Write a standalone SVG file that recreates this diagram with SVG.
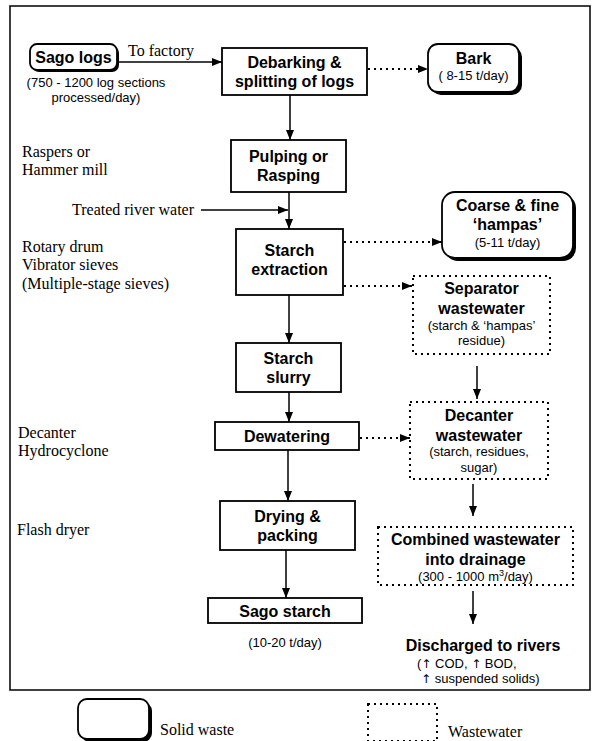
<svg xmlns="http://www.w3.org/2000/svg" width="595" height="741" viewBox="0 0 595 741">
<style>
.b{font-family:"Liberation Sans",Arial,sans-serif;font-weight:bold;font-size:16px;fill:#000;text-anchor:middle}
.s{font-family:"Liberation Sans",Arial,sans-serif;font-size:13px;fill:#000;text-anchor:middle}
.sl{font-family:"Liberation Sans",Arial,sans-serif;font-size:13px;fill:#000}
.ar{font-family:"DejaVu Sans",sans-serif;font-size:12px;fill:#000}
.t{font-family:"Liberation Serif","Times New Roman",serif;font-size:16px;fill:#000}
.box{fill:#fff;stroke:#000;stroke-width:1.8}
.dbox{fill:#fff;stroke:#000;stroke-width:2;stroke-dasharray:2 4}
.sh{fill:#000}
.ln{fill:none;stroke:#000;stroke-width:1.5}
.dl{fill:none;stroke:#000;stroke-width:2;stroke-dasharray:2 4}
</style>
<defs>
<marker id="ah" viewBox="0 0 10 8" refX="10" refY="4" markerWidth="10" markerHeight="8" markerUnits="userSpaceOnUse" orient="auto">
<path d="M0,0 L10,4 L0,8 Z" fill="#000"/>
</marker>
</defs>
<rect width="595" height="741" fill="#fff"/>
<rect x="10" y="6" width="580" height="684" fill="none" stroke="#000" stroke-width="1.5"/>

<g id="labels">
<text class="t" x="22" y="157">Raspers or</text>
<text class="t" x="22" y="175">Hammer mill</text>
<text class="t" x="22" y="252">Rotary drum</text>
<text class="t" x="22" y="270">Vibrator sieves</text>
<text class="t" x="22" y="289">(Multiple-stage sieves)</text>
<text class="t" x="18" y="438">Decanter</text>
<text class="t" x="18" y="456">Hydrocyclone</text>
<text class="t" x="17" y="535">Flash dryer</text>
<text class="t" x="72" y="215">Treated river water</text>
<text class="t" x="128" y="56">To factory</text>
</g>

<g id="connectors">
<line class="ln" x1="117" y1="62" x2="222" y2="62" marker-end="url(#ah)"/>
<line class="dl" x1="368" y1="69" x2="428" y2="69" marker-end="url(#ah)"/>
<line class="ln" x1="290" y1="95" x2="290" y2="140" marker-end="url(#ah)"/>
<line class="ln" x1="289" y1="192" x2="289" y2="229" marker-end="url(#ah)"/>
<line class="ln" x1="201" y1="210" x2="288" y2="210" marker-end="url(#ah)"/>
<line class="dl" x1="344" y1="242" x2="442" y2="242" marker-end="url(#ah)"/>
<line class="dl" x1="344" y1="286" x2="412" y2="286" marker-end="url(#ah)"/>
<line class="ln" x1="289" y1="295" x2="289" y2="343" marker-end="url(#ah)"/>
<line class="ln" x1="289" y1="392" x2="289" y2="422" marker-end="url(#ah)"/>
<line class="dl" x1="360" y1="438" x2="410" y2="438" marker-end="url(#ah)"/>
<line class="ln" x1="477" y1="366" x2="477" y2="399" marker-end="url(#ah)"/>
<line class="ln" x1="288" y1="450" x2="288" y2="501" marker-end="url(#ah)"/>
<line class="ln" x1="286" y1="550" x2="286" y2="598" marker-end="url(#ah)"/>
<line class="ln" x1="473" y1="484" x2="473" y2="516" marker-end="url(#ah)"/>
<line class="ln" x1="473" y1="591" x2="473" y2="624" marker-end="url(#ah)"/>
</g>

<g id="sago-logs">
<rect class="sh" x="32" y="46" width="87" height="26" rx="7"/>
<rect class="box" x="30" y="44" width="87" height="26" rx="7"/>
<text class="b" x="73.5" y="63">Sago logs</text>
<text class="s" x="96" y="87">(750 - 1200 log sections</text>
<text class="s" x="96" y="102">processed/day)</text>
</g>

<g id="debarking">
<rect class="box" x="222" y="48" width="145" height="47"/>
<text class="b" x="294.5" y="68">Debarking &amp;</text>
<text class="b" x="294.5" y="87">splitting of logs</text>
</g>

<g id="bark">
<rect class="sh" x="431" y="47" width="91" height="48" rx="10"/>
<rect class="box" x="428" y="44" width="91" height="48" rx="10"/>
<text class="b" x="473.5" y="64">Bark</text>
<text class="s" x="473.5" y="80">( 8-15 t/day)</text>
</g>

<g id="pulping">
<rect class="box" x="231" y="140" width="115" height="52"/>
<text class="b" x="288.5" y="162">Pulping or</text>
<text class="b" x="288.5" y="181">Rasping</text>
</g>

<g id="starch-extraction">
<rect class="box" x="236" y="229" width="107" height="66"/>
<text class="b" x="289.5" y="256">Starch</text>
<text class="b" x="289.5" y="275">extraction</text>
</g>

<g id="hampas">
<rect class="sh" x="445" y="195" width="131" height="66" rx="13"/>
<rect class="box" x="442" y="192" width="131" height="66" rx="13"/>
<text class="b" x="507.5" y="211">Coarse &amp; fine</text>
<text class="b" x="507.5" y="230">‘hampas’</text>
<text class="s" x="507.5" y="247">(5-11 t/day)</text>
</g>

<g id="separator-wastewater">
<rect class="dbox" x="413" y="276" width="137" height="78"/>
<text class="b" x="481.5" y="294">Separator</text>
<text class="b" x="481.5" y="314">wastewater</text>
<text class="s" x="481.5" y="330">(starch &amp; ‘hampas’</text>
<text class="s" x="481.5" y="345">residue)</text>
</g>

<g id="starch-slurry">
<rect class="box" x="236" y="343" width="105" height="49"/>
<text class="b" x="288.5" y="364">Starch</text>
<text class="b" x="288.5" y="383">slurry</text>
</g>

<g id="dewatering">
<rect class="box" x="215" y="422" width="144" height="28"/>
<text class="b" x="287" y="442">Dewatering</text>
</g>

<g id="decanter-wastewater">
<rect class="dbox" x="410" y="402" width="138" height="77"/>
<text class="b" x="479" y="421">Decanter</text>
<text class="b" x="479" y="441">wastewater</text>
<text class="s" x="479" y="456">(starch, residues,</text>
<text class="s" x="479" y="472">sugar)</text>
</g>

<g id="drying">
<rect class="box" x="220" y="501" width="135" height="49"/>
<text class="b" x="287.5" y="522">Drying &amp;</text>
<text class="b" x="287.5" y="541">packing</text>
</g>

<g id="sago-starch">
<rect class="box" x="208" y="598" width="154" height="25"/>
<text class="b" x="285" y="617">Sago starch</text>
<text class="s" x="285" y="647">(10-20 t/day)</text>
</g>

<g id="combined-wastewater">
<rect class="dbox" x="378" y="527" width="195" height="58"/>
<text class="b" x="475.5" y="545">Combined wastewater</text>
<text class="b" x="475.5" y="565">into drainage</text>
<text class="s" x="475.5" y="581">(300 - 1000 m<tspan dy="-5" font-size="9">3</tspan><tspan dy="5">/day)</tspan></text>
</g>

<g id="discharged">
<text class="b" x="483" y="651">Discharged to rivers</text>
<text class="sl" x="417" y="668">(<tspan class="ar">↑</tspan> COD, <tspan class="ar">↑</tspan> BOD,</text>
<text class="sl" x="421" y="683"><tspan class="ar">↑</tspan> suspended solids)</text>
</g>

<g id="legend-solid">
<rect class="sh" x="81" y="702" width="71" height="40" rx="9"/>
<rect class="box" x="78" y="699" width="71" height="40" rx="9"/>
<text class="t" x="160" y="735">Solid waste</text>
</g>

<g id="legend-wastewater">
<rect class="dbox" x="368" y="704" width="69" height="37"/>
<text class="t" x="448" y="737">Wastewater</text>
</g>
</svg>
